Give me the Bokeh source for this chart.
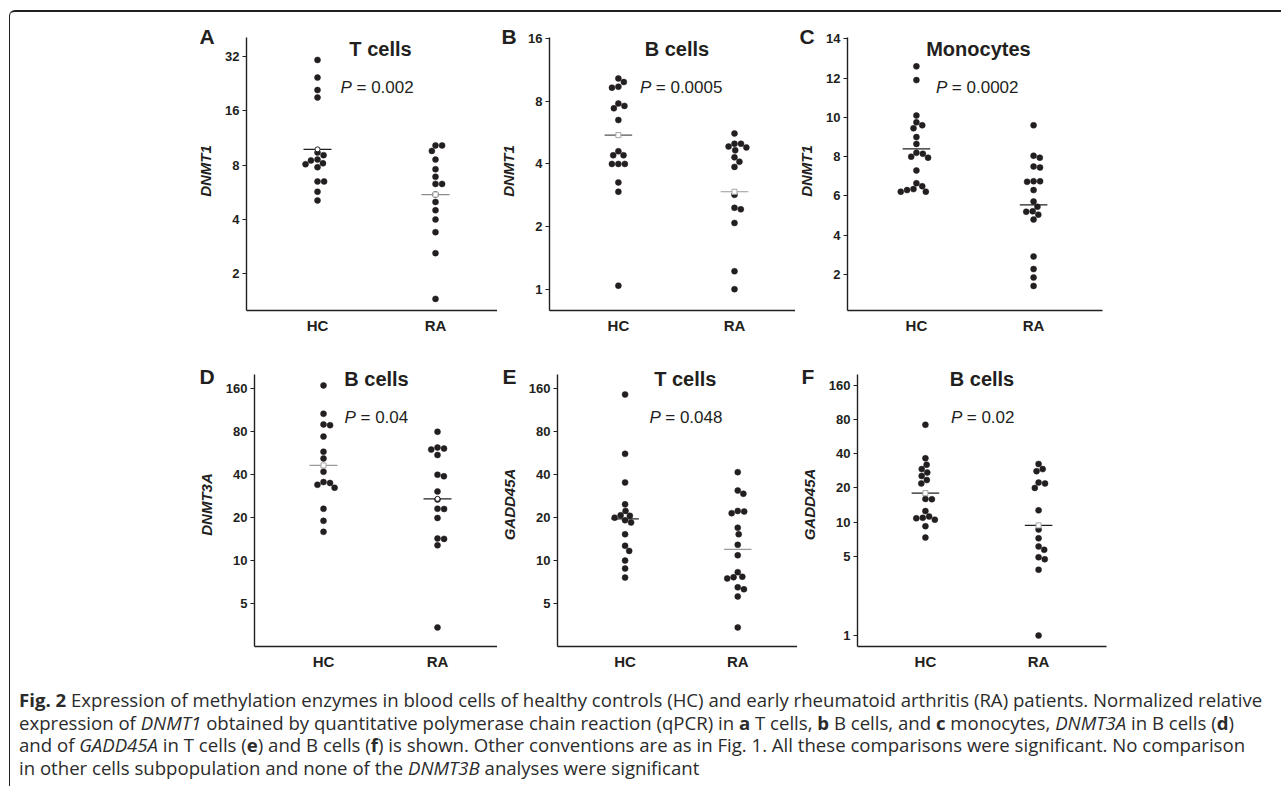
import numpy as np
from bokeh.plotting import figure
from bokeh.layouts import row, column
from bokeh.models import Range1d, FixedTicker, Label, Div, Title
from bokeh.embed import file_html
from bokeh.resources import INLINE

# ---------------- data ----------------
groups = ["HC", "RA"]

A_HC = [30.7, 24.5, 20.9, 19.0, 9.4, 9.1, 8.6, 8.5, 8.2, 8.1, 7.8, 6.5, 6.5, 5.7, 5.1]
A_RA = [10.3, 10.3, 9.6, 8.6, 7.6, 6.9, 6.3, 6.3, 5.5, 5.0, 4.5, 4.0, 3.4, 2.6, 1.45]
A_MEAN = [9.8, 5.5]

B_HC = [10.3, 9.9, 9.4, 9.3, 7.8, 7.6, 7.4, 6.5, 4.6, 4.4, 4.4, 4.0, 4.0, 4.0, 3.26, 2.94, 1.04]
B_RA = [5.6, 5.0, 5.0, 4.85, 4.8, 4.65, 4.3, 4.1, 3.87, 2.84, 2.46, 2.42, 2.08, 1.22, 1.0]
B_MEAN = [5.5, 2.94]

C_HC = [12.6, 11.9, 10.1, 9.75, 9.6, 9.45, 9.0, 8.65, 8.2, 8.15, 8.0, 7.95, 7.3, 6.65, 6.5,
        6.35, 6.3, 6.22, 6.22]
C_RA = [9.6, 8.05, 7.95, 7.5, 7.45, 6.75, 6.75, 6.72, 6.3, 5.72, 5.45, 5.22, 5.2, 5.05, 4.8,
        2.92, 2.28, 1.85, 1.42]
C_MEAN = [8.4, 5.55]

D_HC = [169, 107, 90, 89, 74, 58, 52, 42, 35.5, 35, 34, 32.4, 23.1, 19.0, 15.9]
D_RA = [80, 62, 61, 60, 55, 40, 39, 30.5, 26.8, 23.1, 23.0, 19.9, 14.3, 14.2, 12.8, 3.4]
D_MEAN = [46.5, 27.1]

E_HC = [146, 56, 35.3, 24.8, 22.3, 20.8, 20.6, 20.0, 19.2, 18.5, 15.3, 12.7, 11.7, 10.0, 8.8, 7.6]
E_RA = [41.7, 31.0, 29.4, 22.3, 22.1, 21.5, 17.0, 15.3, 12.9, 10.9, 8.3, 7.7, 7.65, 7.5, 6.5,
        6.3, 5.6, 3.4]
E_MEAN = [19.6, 12.0]

F_HC = [72, 36.5, 32.0, 29.3, 27.3, 25.5, 23.5, 21.9, 16.0, 15.9, 12.5, 11.2, 10.9, 10.8, 10.5,
        9.2, 7.3]
F_RA = [32.5, 29.3, 28.1, 22.3, 21.9, 20.0, 12.7, 8.6, 7.2, 6.1, 5.7, 4.9, 4.7, 3.8, 1.0]
F_MEAN = [18.0, 9.35]

TITLES = ["T cells", "B cells", "Monocytes", "B cells", "T cells", "B cells"]
LETTERS = ["A", "B", "C", "D", "E", "F"]
GENES = ["DNMT1", "DNMT1", "DNMT1", "DNMT3A", "GADD45A", "GADD45A"]
PVALS = ["0.002", "0.0005", "0.0002", "0.04", "0.048", "0.02"]

A_TICKS = [2, 4, 8, 16, 32]
B_TICKS = [1, 2, 4, 8, 16]
C_TICKS = [2, 4, 6, 8, 10, 12, 14]
D_TICKS = [5, 10, 20, 40, 80, 160]
E_TICKS = [5, 10, 20, 40, 80, 160]
F_TICKS = [1, 5, 10, 20, 40, 80, 160]

# ---------------- styling / geometry (page pixels) ----------------
INK = "#231f20"
GREY = "#a6a6a6"
FONT = "Liberation Sans"
ROWS = {
    0: dict(fig=(12, 330), frame_top=31, axis_top=37, bottom=310, title_y=48, p_y=87,
            letter_standoff=-33),
    1: dict(fig=(342, 332), frame_top=362, axis_top=374, bottom=646, title_y=378, p_y=417,
            letter_standoff=-50),
}

specs = [
    dict(hc=A_HC, ra=A_RA, mean=A_MEAN, ticks=A_TICKS, log=True, yr=(1.25, 40.9), row=0,
         fig_x=(10, 487), frame_x=(246, 497), cat_px=(317, 435), title_x=380, p_x=340,
         letter_x=199, mean_col=[INK, "#8a8a8a"],
         mean_mark=[("circle", INK), ("square", GREY)]),
    dict(hc=B_HC, ra=B_RA, mean=B_MEAN, ticks=B_TICKS, log=True, yr=(0.79, 16.2), row=0,
         fig_x=(497, 298), frame_x=(545, 795), cat_px=(615, 733), title_x=674.5, p_x=637,
         letter_x=497, mean_col=["#555555", "#9a9a9a"],
         mean_mark=[("square", GREY), ("square", GREY)]),
    dict(hc=C_HC, ra=C_RA, mean=C_MEAN, ticks=C_TICKS, log=False, yr=(0.17, 14.07), row=0,
         fig_x=(795, 485), frame_x=(843, 1102), cat_px=(913, 1032), title_x=976, p_x=933,
         letter_x=795, mean_col=[INK, INK], mean_mark=[None, None]),
    dict(hc=D_HC, ra=D_RA, mean=D_MEAN, ticks=D_TICKS, log=True, yr=(2.5, 201.6), row=1,
         fig_x=(10, 487), frame_x=(254, 497), cat_px=(323, 437), title_x=376, p_x=344,
         letter_x=199, mean_col=["#9a9a9a", INK],
         mean_mark=[("square", GREY), ("circle", INK)]),
    dict(hc=E_HC, ra=E_RA, mean=E_MEAN, ticks=E_TICKS, log=True, yr=(2.5, 201.6), row=1,
         fig_x=(497, 300), frame_x=(552, 797), cat_px=(621, 736), title_x=682.5, p_x=646,
         letter_x=497, mean_col=[INK, "#9a9a9a"], mean_mark=[None, None]),
    dict(hc=F_HC, ra=F_RA, mean=F_MEAN, ticks=F_TICKS, log=True, yr=(0.8, 200.0), row=1,
         fig_x=(797, 483), frame_x=(853, 1106), cat_px=(922, 1037), title_x=979.5, p_x=948,
         letter_x=797, mean_col=[INK, INK],
         mean_mark=[("square", GREY), ("square", GREY)]),
]


def swarm(py, d=6.6):
    """Beeswarm offsets (pixels) so that dots of diameter ~d do not overlap."""
    order = np.argsort(py)
    xs = np.zeros(len(py))
    placed = []
    for i in order:
        y = py[i]
        blocked = []
        for xj, yj in placed:
            dy = abs(y - yj)
            if dy < d:
                w = np.sqrt(d * d - dy * dy)
                blocked.append((xj - w, xj + w))
        cands = [0.0] + [b for iv in blocked for b in iv]
        best = 0.0
        for c in sorted(cands, key=lambda c: (round(abs(c), 6), -c)):
            if all(not (a + 1e-6 < c < b - 1e-6) for a, b in blocked):
                best = c
                break
        xs[i] = best
        placed.append((best, y))
    return xs


def build(i, s):
    r = ROWS[s["row"]]
    fl, fw = s["fig_x"]
    ft, fh = r["fig"]
    L, R = s["frame_x"]
    T, AT, B = r["frame_top"], r["axis_top"], r["bottom"]
    hcp, rap = s["cat_px"]
    unit = float(rap - hcp)
    lo, hi = s["yr"]
    log = s["log"]

    def xd(px):
        return (px - hcp) / unit

    def yd(py):
        f = (B - py) / float(B - AT)
        return lo * (hi / lo) ** f if log else lo + f * (hi - lo)

    def ypx(v):
        v = np.asarray(v, dtype=float)
        if log:
            f = (np.log(v) - np.log(lo)) / (np.log(hi) - np.log(lo))
        else:
            f = (v - lo) / (hi - lo)
        return B - f * (B - AT)

    p = figure(width=fw, height=fh, x_range=Range1d(xd(L), xd(R)),
               y_range=Range1d(lo, yd(T)),
               y_axis_type="log" if log else "linear", output_backend="svg",
               toolbar_location=None,
               min_border_left=L - fl, min_border_right=fl + fw - R,
               min_border_top=T - ft, min_border_bottom=ft + fh - B)
    p.outline_line_color = None
    p.background_fill_color = "white"
    p.border_fill_color = "white"
    p.xgrid.grid_line_color = None
    p.ygrid.grid_line_color = None

    # panel letter as the figure title (drawn outside the frame)
    t = Title(text=LETTERS[i], align="left", offset=s["letter_x"] - L,
              vertical_align="bottom")
    try:
        t.standoff = r["letter_standoff"]
    except Exception:
        t.standoff = 0
    t.text_font = FONT
    t.text_font_size = "21px"
    t.text_font_style = "bold"
    t.text_color = INK
    p.title = t

    # axes
    for ax in (p.xaxis[0], p.yaxis[0]):
        ax.axis_line_color = INK
        ax.axis_line_width = 1.4
        ax.minor_tick_line_color = None
        ax.major_label_text_font = FONT
        ax.major_label_text_font_style = "bold"
        ax.major_label_text_color = INK
    p.xaxis.ticker = FixedTicker(ticks=[0, 1])
    p.xaxis.major_label_overrides = {0: groups[0], 1: groups[1]}
    p.xaxis.major_tick_line_color = None
    p.xaxis.major_tick_out = 0
    p.xaxis.major_label_standoff = 6
    p.xaxis.major_label_text_font_size = "15px"

    p.yaxis.bounds = (lo, hi)
    p.yaxis.ticker = FixedTicker(ticks=s["ticks"])
    p.yaxis.major_label_overrides = {t_: str(t_) for t_ in s["ticks"]}
    p.yaxis.major_tick_line_color = INK
    p.yaxis.major_tick_line_width = 1.2
    p.yaxis.major_tick_out = 4
    p.yaxis.major_tick_in = 0
    p.yaxis.major_label_standoff = 3
    p.yaxis.major_label_text_font_size = "13px"
    p.yaxis.axis_label = GENES[i]
    p.yaxis.axis_label_text_font = FONT
    p.yaxis.axis_label_text_font_style = "bold italic"
    p.yaxis.axis_label_text_font_size = "15px"
    p.yaxis.axis_label_text_color = INK
    p.yaxis.axis_label_standoff = 8

    # dots (beeswarm around each group)
    for k, vals in enumerate((s["hc"], s["ra"])):
        vals = np.asarray(vals, dtype=float)
        off = swarm(ypx(vals)) / unit
        p.scatter(x=k + off, y=vals, size=6, marker="circle", fill_color=INK, line_color=INK,
                  line_width=0.5)

    # mean lines with small open mean markers
    half = 14.0 / unit
    p.segment(x0=[0 - half, 1 - half], x1=[0 + half, 1 + half], y0=s["mean"], y1=s["mean"],
              line_color=s["mean_col"], line_width=1.2)
    for k, mk in enumerate(s["mean_mark"]):
        if mk is not None:
            p.scatter(x=[k], y=[s["mean"][k]], marker=mk[0], size=5, fill_color="white",
                      line_color=mk[1], line_width=1)

    # texts inside the frame
    p.add_layout(Label(x=xd(s["title_x"]), y=yd(r["title_y"]), text=TITLES[i],
                       text_align="center", text_baseline="alphabetic", text_font=FONT,
                       text_font_style="bold", text_font_size="20px", text_color=INK))
    p.add_layout(Label(x=xd(s["p_x"]), y=yd(r["p_y"]), text="P", text_align="left",
                       text_baseline="alphabetic", text_font=FONT, text_font_style="italic",
                       text_font_size="17px", text_color=INK))
    p.add_layout(Label(x=xd(s["p_x"] + 16), y=yd(r["p_y"]), text="= " + PVALS[i],
                       text_align="left", text_baseline="alphabetic", text_font=FONT,
                       text_font_style="normal", text_font_size="17px", text_color=INK))
    return p


figs = [build(i, s) for i, s in enumerate(specs)]

caption_html = (
    '<div style="font-family:\'Open Sans\',sans-serif;font-size:18.6px;line-height:22.6px;'
    'color:#2b2b2b;white-space:nowrap;padding:10px 0 0 4px;">'
    '<b>Fig. 2</b> Expression of methylation enzymes in blood cells of healthy controls (HC) and '
    'early rheumatoid arthritis (RA) patients. Normalized relative<br>'
    'expression of <i>DNMT1</i> obtained by quantitative polymerase chain reaction (qPCR) in '
    '<b>a</b> T cells, <b>b</b> B cells, and <b>c</b> monocytes, <i>DNMT3A</i> in B cells (<b>d</b>)<br>'
    'and of <i>GADD45A</i> in T cells (<b>e</b>) and B cells (<b>f</b>) is shown. Other conventions '
    'are as in Fig. 1. All these comparisons were significant. No comparison<br>'
    'in other cells subpopulation and none of the <i>DNMT3B</i> analyses were significant'
    '</div>'
)
caption = Div(text=caption_html, width=1270, height=104)

layout = column(
    row(figs[0], figs[1], figs[2], spacing=0),
    row(figs[3], figs[4], figs[5], spacing=0),
    caption,
    spacing=0,
    styles={"margin-top": "10px", "margin-left": "9px",
            "border-top": "2px solid #231f20", "border-left": "1px solid #231f20",
            "border-top-left-radius": "6px"},
)

open("out.html", "w").write(file_html(layout, INLINE))
